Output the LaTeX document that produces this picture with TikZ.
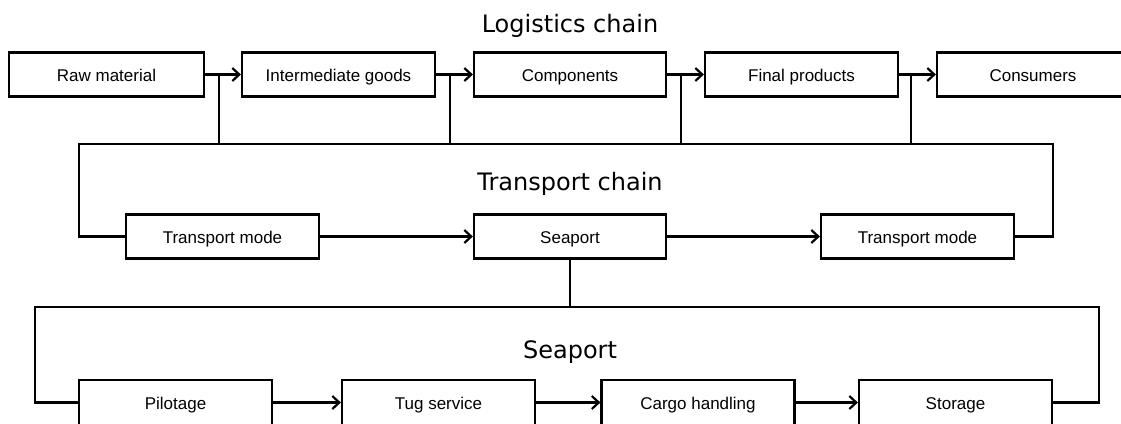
\documentclass[tikz,border=0pt]{standalone}
\usepackage{fontspec}
\setmainfont{Liberation Sans}
\newfontfamily\titlefont{DejaVu Sans}
\usetikzlibrary{arrows.meta}

\tikzset{
  stagebox/.style={draw, line width=2.2pt, minimum width=193pt, minimum height=44pt,
    inner sep=0pt, text height=17pt, text depth=3.5pt,
    font=\fontsize{17}{19}\selectfont},
  lowbox/.style={stagebox, minimum height=45pt},
  link/.style={line width=2.2pt},
  flow/.style={link, -{Straight Barb[length=7pt,width=13pt]}},
  heading/.style={anchor=base, font=\titlefont\fontsize{24}{28}\selectfont}
}

\begin{document}
\begin{tikzpicture}[x=1pt, y=-1pt]
\useasboundingbox (0,0) rectangle (1121,423);
\clip (0,0) rectangle (1121,423);

% --- Logistics chain ---
\node[heading] (tlog) at (570,32) {Logistics chain};
\node[stagebox, minimum width=195pt] (raw)   at (106.5,74.5) {Raw material};
\node[stagebox] (inter) at (338.5,74.5) {Intermediate goods};
\node[stagebox, minimum width=192pt] (comp)  at (570,74.5) {Components};
\node[stagebox] (final) at (801.5,74.5) {Final products};
\node[stagebox, minimum width=210pt, text width=192pt, align=center] (cons) at (1042,74.5) {\hspace*{-18pt}Consumers};

\draw[flow] (raw.east) -- (inter.west);
\draw[flow] (inter.east) -- (comp.west);
\draw[flow] (comp.east) -- (final.west);
\draw[flow] (final.east) -- (cons.west);

% --- Transport chain ---
\node[heading] (ttra) at (570,190) {Transport chain};
\node[stagebox] (tm1)   at (222.5,236.5) {Transport mode};
\node[stagebox, minimum width=192pt] (sport) at (570,236.5) {Seaport};
\node[stagebox] (tm2)   at (917.5,236.5) {Transport mode};

\draw[flow] (tm1.east) -- (sport.west);
\draw[flow] (sport.east) -- (tm2.west);

% bus joining the logistics chain to the transport chain
\coordinate (tbL) at (79,144);
\coordinate (tbR) at (1053,144);
\draw[link] (tm1.west) -| (tbL) -- (tbR) |- (tm2.east);
\draw[link] ([xshift=14pt]raw.east)   -- ([xshift=14pt]raw.east |- tbL);
\draw[link] ([xshift=14pt]inter.east) -- ([xshift=14pt]inter.east |- tbL);
\draw[link] ([xshift=14pt]comp.east)  -- ([xshift=14pt]comp.east |- tbL);
\draw[link] ([xshift=12pt]final.east) -- ([xshift=12pt]final.east |- tbL);

% --- Seaport ---
\node[heading] (tsea) at (570,358) {Seaport};
\node[lowbox] (pilot) at (175.5,402.5) {Pilotage};
\node[lowbox] (tug)   at (438.5,402.5) {Tug service};
\node[lowbox] (cargo) at (698,402.5) {Cargo handling};
\node[lowbox] (store) at (955.5,402.5) {Storage};

\draw[flow] (pilot.east) -- (tug.west);
\draw[flow] (tug.east) -- (cargo.west);
\draw[flow] (cargo.east) -- (store.west);

% bus joining the seaport node to the seaport processes
\coordinate (sbL) at (35,307);
\coordinate (sbR) at (1099,307);
\draw[link] (pilot.west) -| (sbL) -- (sbR) |- (store.east);
\draw[link] (sport.south) -- (sport.south |- sbL);
\end{tikzpicture}
\end{document}
